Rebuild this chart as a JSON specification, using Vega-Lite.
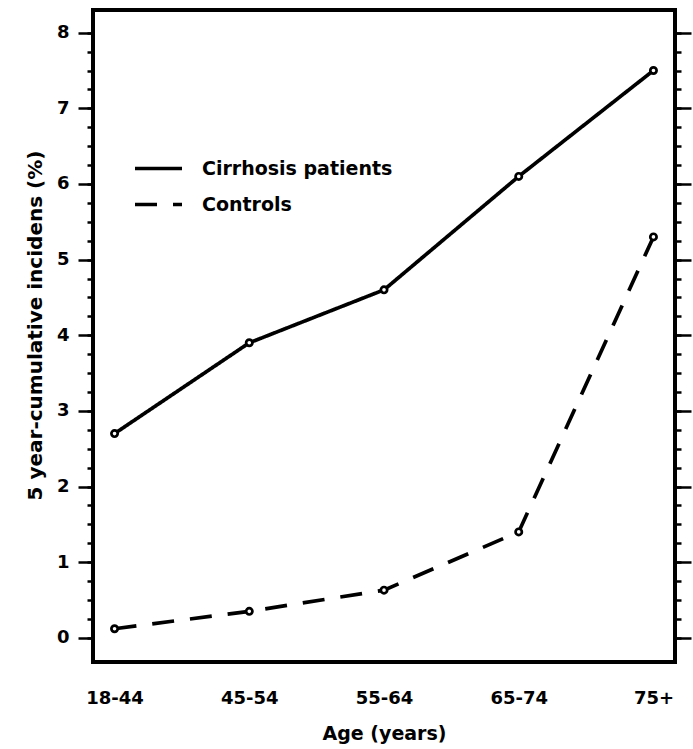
{
  "$schema": "https://vega.github.io/schema/vega-lite/v6.json",
  "autosize": {"type": "none"},
  "padding": {"left": 93, "top": 10, "right": 18, "bottom": 87},
  "width": 582,
  "height": 652,
  "background": "white",
  "config": {
    "font": "DejaVu Sans",
    "view": {"stroke": "black", "strokeWidth": 4},
    "axisX": {"domain": false, "ticks": false, "grid": false, "labelAngle": 0, "labelFont": "DejaVu Sans", "labelFontWeight": "bold", "labelFontSize": 18, "labelColor": "black", "labelPadding": 27, "titleFont": "DejaVu Sans", "titleFontWeight": "bold", "titleFontSize": 19, "titleColor": "black", "titlePadding": 17},
    "axisY": {"domain": false, "grid": false, "tickColor": "black", "tickWidth": 2.5}
  },
  "data": {"values": [
    {"age": "18-44", "group": "Cirrhosis patients", "value": 2.7},
    {"age": "45-54", "group": "Cirrhosis patients", "value": 3.9},
    {"age": "55-64", "group": "Cirrhosis patients", "value": 4.6},
    {"age": "65-74", "group": "Cirrhosis patients", "value": 6.1},
    {"age": "75+", "group": "Cirrhosis patients", "value": 7.5},
    {"age": "18-44", "group": "Controls", "value": 0.12},
    {"age": "45-54", "group": "Controls", "value": 0.35},
    {"age": "55-64", "group": "Controls", "value": 0.63},
    {"age": "65-74", "group": "Controls", "value": 1.4},
    {"age": "75+", "group": "Controls", "value": 5.3}
  ]},
  "resolve": {"scale": {"y": "shared"}, "axis": {"y": "independent"}},
  "layer": [
    {
      "mark": {"type": "line", "color": "black", "strokeWidth": 3.7},
      "encoding": {
        "x": {"field": "age", "type": "ordinal", "sort": null, "title": "Age (years)", "scale": {"type": "point", "padding": 0.16}},
        "y": {"field": "value", "type": "quantitative", "scale": {"domain": [-0.32, 8.3], "nice": false, "zero": false},
              "axis": {"orient": "left", "values": [0,1,2,3,4,5,6,7,8], "tickSize": 15, "labelFont": "DejaVu Sans", "labelFontWeight": "bold", "labelFontSize": 18, "labelColor": "black", "labelPadding": 9, "title": "5 year-cumulative incidens (%)", "titleFont": "DejaVu Sans", "titleFontWeight": "bold", "titleFontSize": 20, "titleColor": "black", "titlePadding": 11, "titleY": 315}},
        "strokeDash": {"field": "group", "type": "nominal",
          "scale": {"domain": ["Cirrhosis patients", "Controls"], "range": [[1, 0], [22, 16]]},
          "legend": {"title": null, "orient": "none", "legendX": 40, "legendY": 133, "symbolType": "stroke", "symbolSize": 2209, "symbolStrokeWidth": 3.7, "symbolStrokeColor": "black", "labelFont": "DejaVu Sans", "labelFontWeight": "bold", "labelFontSize": 19, "labelColor": "black", "labelOffset": 18, "labelLimit": 400, "rowPadding": 0}}
      }
    },
    {
      "mark": {"type": "point", "shape": "circle", "filled": false, "fill": "white", "fillOpacity": 1, "stroke": "black", "strokeWidth": 2.7, "size": 40, "opacity": 1},
      "encoding": {
        "x": {"field": "age", "type": "ordinal", "sort": null, "title": "Age (years)"},
        "y": {"field": "value", "type": "quantitative",
              "axis": {"orient": "left", "values": [0,0.25,0.5,0.75,1,1.25,1.5,1.75,2,2.25,2.5,2.75,3,3.25,3.5,3.75,4,4.25,4.5,4.75,5,5.25,5.5,5.75,6,6.25,6.5,6.75,7,7.25,7.5,7.75,8], "tickSize": 6, "labels": false, "title": null}},
        "detail": {"field": "group"}
      }
    },
    {
      "mark": {"type": "line", "opacity": 0},
      "encoding": {
        "x": {"field": "age", "type": "ordinal", "sort": null, "title": "Age (years)"},
        "y": {"field": "value", "type": "quantitative",
              "axis": {"orient": "right", "values": [0,1,2,3,4,5,6,7,8], "tickSize": 16, "labels": false, "title": null}},
        "detail": {"field": "group"}
      }
    },
    {
      "mark": {"type": "line", "opacity": 0},
      "encoding": {
        "x": {"field": "age", "type": "ordinal", "sort": null, "title": "Age (years)"},
        "y": {"field": "value", "type": "quantitative",
              "axis": {"orient": "right", "values": [0,0.25,0.5,0.75,1,1.25,1.5,1.75,2,2.25,2.5,2.75,3,3.25,3.5,3.75,4,4.25,4.5,4.75,5,5.25,5.5,5.75,6,6.25,6.5,6.75,7,7.25,7.5,7.75,8], "tickSize": 6, "labels": false, "title": null}},
        "detail": {"field": "group"}
      }
    }
  ]
}
